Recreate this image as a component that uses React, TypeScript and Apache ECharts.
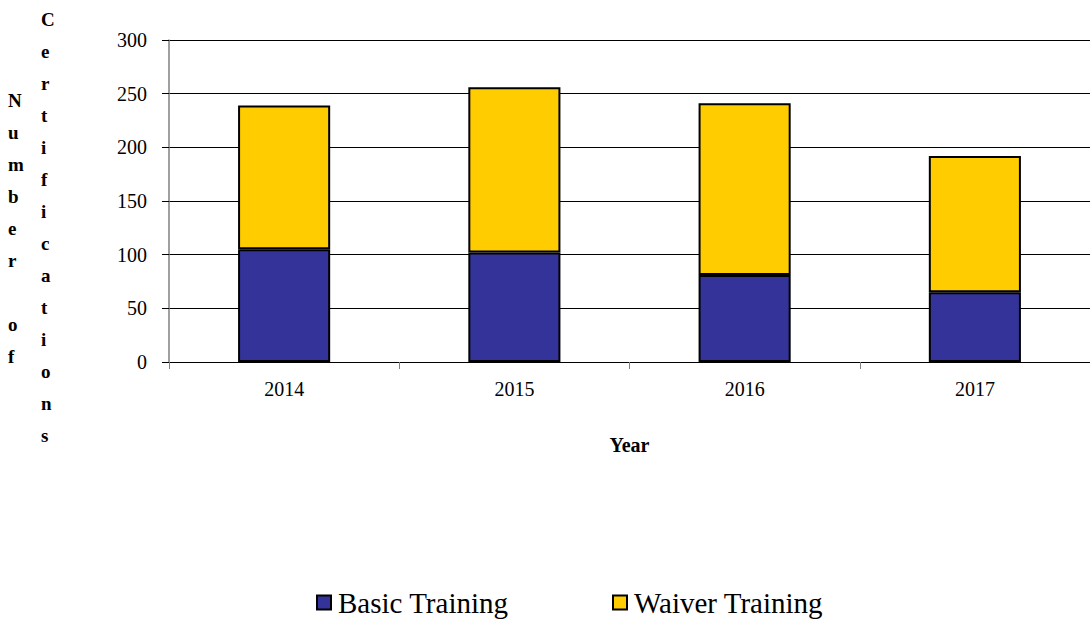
import React, { useEffect, useRef } from "react";
import * as echarts from "echarts";

const categories = ["2014", "2015", "2016", "2017"];
const basicTraining = [105, 102, 81, 65];
const waiverTraining = [134, 154, 160, 127];
const yTicks = { min: 0, max: 300, interval: 50 };
const yTitleCol1 = "Number of";
const yTitleCol2 = "Certifications";
const xTitle = "Year";

const FONT = "Liberation Serif";

export default function App() {
  const ref = useRef<HTMLDivElement>(null);
  useEffect(() => {
    document.body.style.margin = "0";
    const chart = echarts.init(ref.current!, undefined, { renderer: "svg" });
    const col = (s: string) => s.split("").join("\n");
    const legendText = { fontFamily: FONT, fontSize: 29, color: "#000", padding: [0, 0, 0, 2] };
    chart.setOption({
      animation: false,
      backgroundColor: "#ffffff",
      textStyle: { fontFamily: FONT },
      grid: { left: 169, top: 40, width: 928, height: 322, containLabel: false },
      xAxis: {
        type: "category",
        data: categories,
        name: xTitle,
        nameLocation: "middle",
        nameGap: 73,
        nameTextStyle: { fontFamily: FONT, fontSize: 20, fontWeight: "bold", color: "#000" },
        axisLine: { lineStyle: { color: "#000", width: 1 } },
        axisTick: { show: true, length: 7, lineStyle: { color: "#808080" } },
        axisLabel: { fontFamily: FONT, fontSize: 20, color: "#000", margin: 17 },
      },
      yAxis: {
        type: "value",
        min: yTicks.min,
        max: yTicks.max,
        interval: yTicks.interval,
        axisLine: { show: true, lineStyle: { color: "#808080", width: 1.5 } },
        axisTick: { show: true, length: 7, lineStyle: { color: "#000" } },
        axisLabel: { fontFamily: FONT, fontSize: 20, color: "#000", margin: 22 },
        splitLine: { show: true, lineStyle: { color: "#000", width: 1 } },
      },
      legend: [
        {
          data: ["Basic Training"],
          left: 311,
          top: 583,
          itemWidth: 14,
          itemHeight: 14,
          itemGap: 0,
          textStyle: legendText,
          icon: "rect",
        },
        {
          data: ["Waiver Training"],
          left: 607,
          top: 583,
          itemWidth: 14,
          itemHeight: 14,
          itemGap: 0,
          textStyle: legendText,
          icon: "rect",
        },
      ],
      graphic: [
        {
          type: "text",
          left: 8,
          top: 84,
          style: {
            text: col(yTitleCol1),
            fontFamily: FONT,
            fontSize: 19,
            fontWeight: "bold",
            lineHeight: 32,
            fill: "#000",
            align: "center",
            width: 20,
          },
        },
        {
          type: "text",
          left: 41,
          top: 3,
          style: {
            text: col(yTitleCol2),
            fontFamily: FONT,
            fontSize: 19,
            fontWeight: "bold",
            lineHeight: 32,
            fill: "#000",
            align: "center",
            width: 20,
          },
        },
      ],
      series: [
        {
          name: "Basic Training",
          type: "bar",
          stack: "total",
          data: basicTraining,
          barWidth: "40%",
          itemStyle: { color: "#333399", borderColor: "#000", borderWidth: 2 },
        },
        {
          name: "Waiver Training",
          type: "bar",
          stack: "total",
          data: waiverTraining,
          barWidth: "40%",
          itemStyle: { color: "#FFCC00", borderColor: "#000", borderWidth: 2 },
        },
      ],
    });
    return () => chart.dispose();
  }, []);
  return <div ref={ref} style={{ width: 1090, height: 622 }} />;
}
